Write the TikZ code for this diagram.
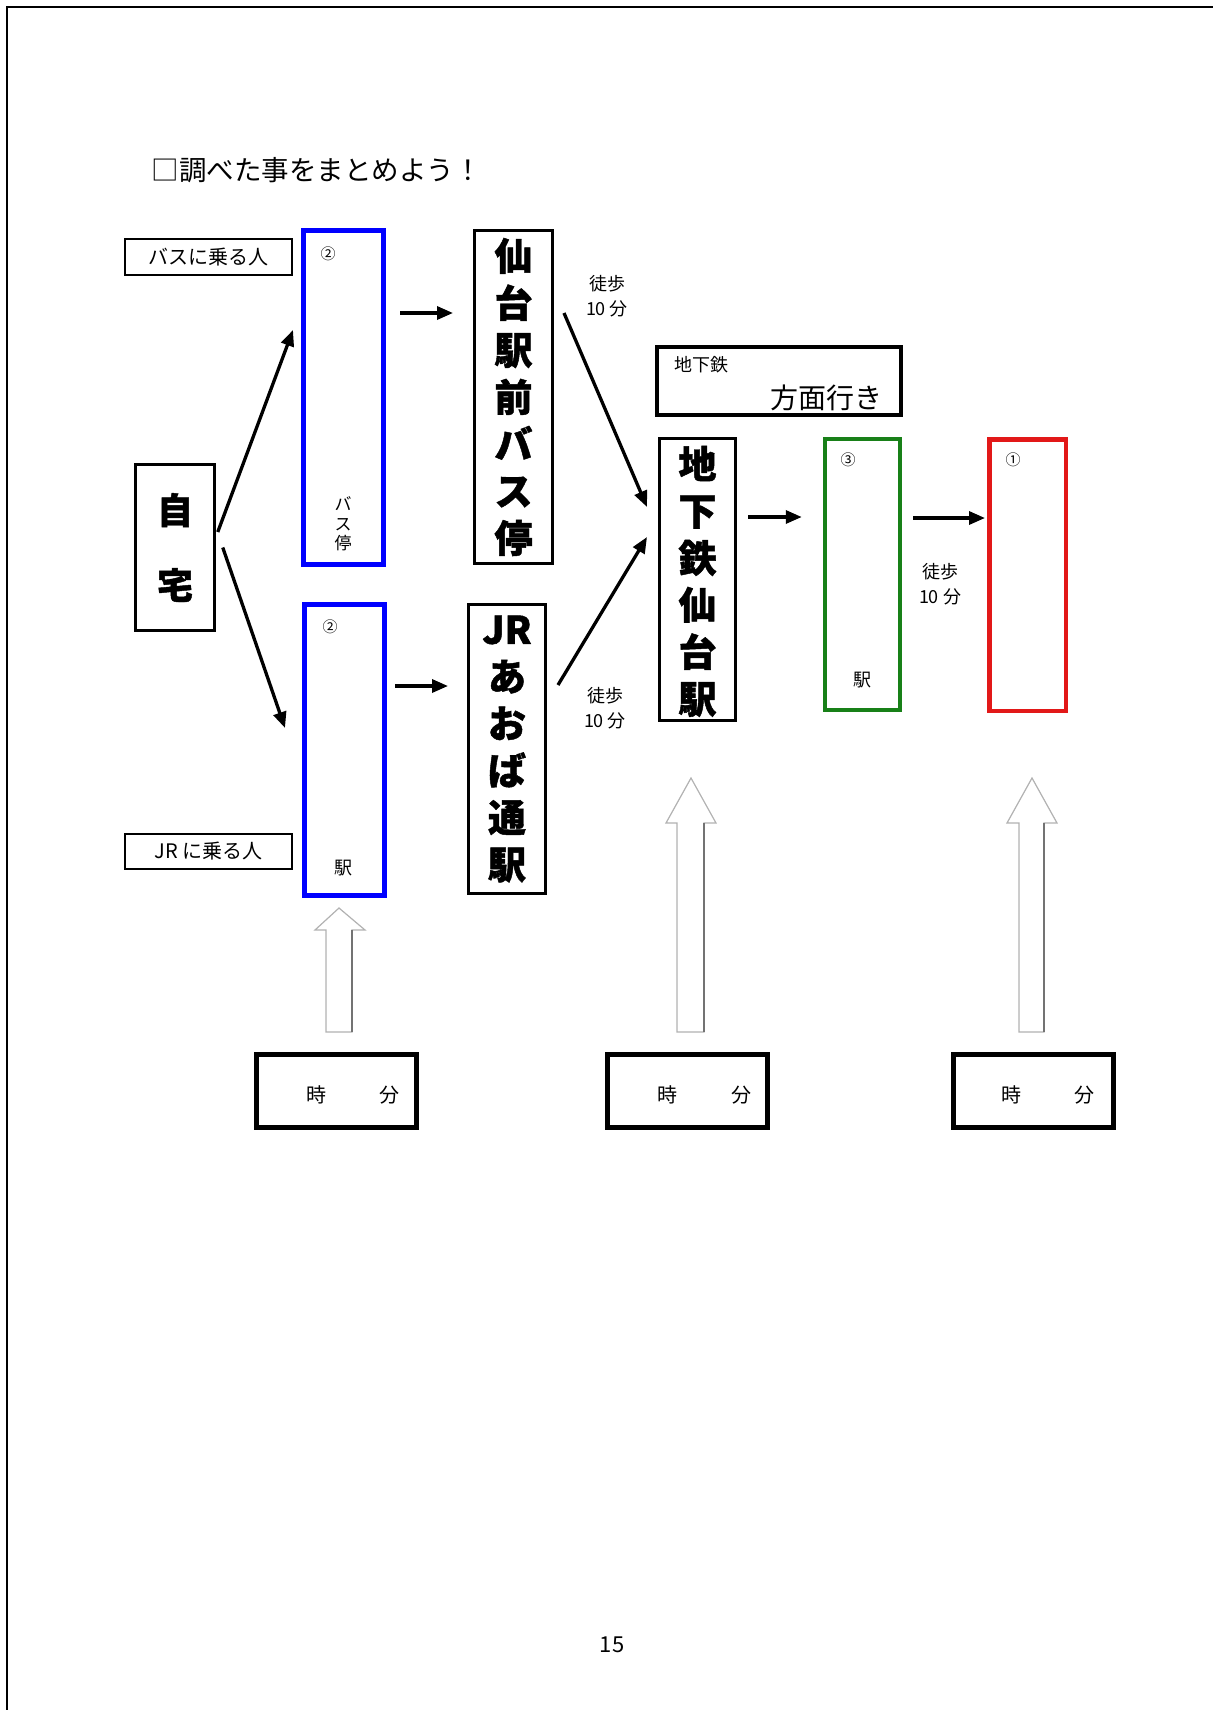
\documentclass[tikz,border=0pt]{standalone}
\usepackage{fontspec}
\setmainfont{Noto Sans CJK JP}[BoldFeatures={FakeBold=1.2}]
\usetikzlibrary{arrows.meta,calc}

\definecolor{stagreen}{RGB}{24,128,24}
\definecolor{stared}{RGB}{226,24,24}
\newcommand{\jsize}[1]{\fontsize{#1}{#1}\selectfont}

\tikzset{
  tag/.style={draw, line width=2pt, minimum width=167pt, minimum height=36pt, inner sep=0pt, font=\jsize{20}},
  stopbox/.style={draw=blue, line width=5pt, minimum width=80pt, inner sep=0pt},
  stationbox/.style={draw, line width=3pt, inner sep=0pt, align=center, font=\bfseries\fontsize{38}{47}\selectfont},
  timebox/.style={draw, line width=5pt, minimum width=160pt, minimum height=73pt, inner sep=0pt},
  walk/.style={align=center, font=\fontsize{18}{25}\selectfont},
  arr/.style={line width=3.3pt, -{Triangle[length=16pt,width=13pt]}},
  hollow/.style={draw=gray!60, line width=1.2pt, fill=white},
  shade/.style={draw=black!55, line width=1.2pt},
  num/.style={font=\jsize{15}},
}

\begin{document}
\begin{tikzpicture}[x=1pt,y=-1pt]
        \useasboundingbox (0,0) rectangle (1213,1710);

        % page frame
        \draw[line width=2.2pt] (7,1710) -- (7,7) -- (1213,7);

        \node[anchor=west, font=\jsize{27.5}] (title) at (148,170) {□調べた事をまとめよう！};

        %%% left side
        \node[tag] (bustag) at (208.5,257) {バスに乗る人};
        \node[tag, minimum height=35pt] (jrtag) at (208.5,851.5) {JR に乗る人};

        \node[stationbox, line width=2.5pt, minimum width=79pt, minimum height=166pt,
              font=\bfseries\fontsize{36}{75}\selectfont] (home) at (175,547.5) {自\\宅};

        \node[stopbox, minimum height=334pt] (busup) at (343.5,397.5) {};
        \node[stopbox, minimum height=291pt] (buslow) at (344.5,750) {};

        \node[num] (n2a) at (328,254) {②};
        \node[align=center, font=\fontsize{17}{19.5}\selectfont] (busstop) at (343,524) {バ\\ス\\停};
        \node[num] (n2b) at (330,627) {②};
        \node[font=\jsize{18}] (eki1) at (343,868) {駅};

        %%% stations
        \node[stationbox, minimum width=78pt, minimum height=333pt] (sendai) at (513.5,397) {仙\\台\\駅\\前\\バ\\ス\\停};
        \node[stationbox, minimum width=77pt, minimum height=289pt] (jr) at (507,749) {JR\\あ\\お\\ば\\通\\駅};
        \node[stationbox, minimum width=76pt, minimum height=282pt, text depth=-6pt] (subway) at (697.5,579.5) {地\\下\\鉄\\仙\\台\\駅};

        \node[draw, line width=4pt, minimum width=244pt, minimum height=68pt] (line) at (779,381) {};
        \node[anchor=west, font=\jsize{18}] (linename) at (671,365) {地下鉄};
        \node[anchor=east, font=\jsize{28}] (dest) at (886,398) {方面行き};

        \node[stopbox, draw=stagreen, line width=4.5pt, minimum width=75pt, minimum height=271pt] (green) at (862.5,574.5) {};
        \node[num] (n3) at (848,460) {③};
        \node[font=\jsize{18}] (eki3) at (862,680) {駅};

        \node[stopbox, draw=stared, line width=4.5pt, minimum width=76.5pt, minimum height=271.5pt] (red) at (1027.5,575) {};
        \node[num] (n1) at (1013,460) {①};

        \node[walk] (walk1) at (607,296) {徒歩\\10 分};
        \node[walk] (walk2) at (605,708) {徒歩\\10 分};
        \node[walk] (walk3) at (940,584) {徒歩\\10 分};

        %%% arrows
        \draw[arr] ($(home.east)+(2,-15.5)$) -- ($(busup.west)+(-8,-67.5)$);
        \draw[arr] ($(home.east)+(7,0)$) -- ($(buslow.west)+(-17,-22)$);
        \draw[arr] ($(busup.east)+(14,-84.5)$) -- ($(sendai.west)+(-20,-84)$);
        \draw[arr] ($(buslow.east)+(8,-64)$) -- ($(jr.west)+(-19,-63)$);
        \draw[arr] ($(sendai.east)+(10,-84)$) -- ($(subway.west)+(-11,-72.5)$);
        \draw[arr] ($(jr.east)+(11,-64)$) -- ($(subway.west)+(-11,-42.5)$);
        \draw[arr] ($(subway.east)+(11,-62.5)$) -- ($(green.west)+(-21,-57.5)$);
        \draw[arr] ($(green.east)+(11,-56.5)$) -- ($(red.west)+(-2,-57)$);

        %%% time boxes
        \node[timebox] (time1) at (336.5,1091) {};
        \node[timebox] (time2) at (687,1091) {};
        \node[timebox] (time3) at (1033.5,1091) {};

        \node[font=\jsize{20}] (hm1) at (352.5,1095) {時\hspace{53pt}分};
        \node[font=\jsize{20}] (hm2) at (704,1095) {時\hspace{54pt}分};
        \node[font=\jsize{20}] (hm3) at (1047.5,1095) {時\hspace{53pt}分};

        % hollow up arrows
        \coordinate (U1) at (339,908);
        \coordinate (U2) at (691,778);
        \coordinate (U3) at (1032,778);

        \draw[hollow] (326,1032) -- (326,930) -- (315,930)
                        -- (U1) -- (365,930) -- (352,930)
                        -- (352,1032) -- cycle;
        \draw[hollow] (677,1032) -- (677,823) -- (666,823)
                        -- (U2) -- (716,823) -- (704,823)
                        -- (704,1032) -- cycle;
        \draw[hollow] (1019,1032) -- (1019,823) -- (1007,823)
                        -- (U3) -- (1057,823) -- (1044,823)
                        -- (1044,1032) -- cycle;
        \draw[shade] (352,930) -- (352,1032);
        \draw[shade] (704,823) -- (704,1032);
        \draw[shade] (1044,823) -- (1044,1032);

        \node[font=\jsize{22}] (page) at (612,1645) {15};
\end{tikzpicture}
\end{document}
